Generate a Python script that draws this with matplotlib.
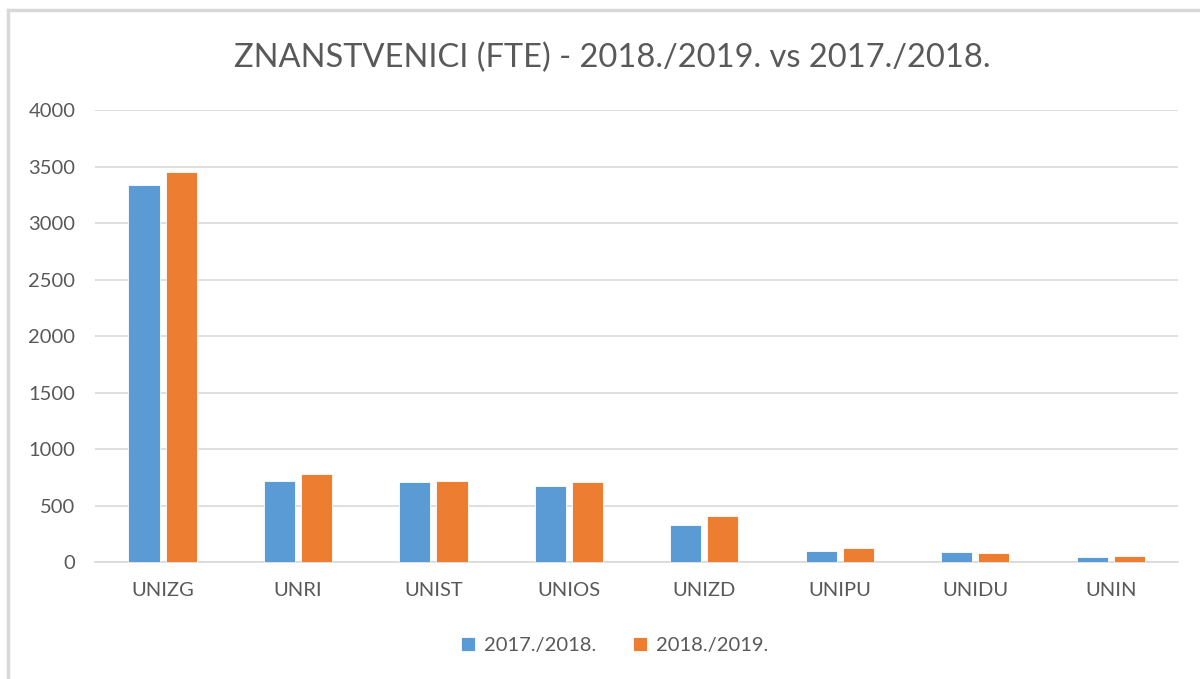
import matplotlib.pyplot as plt
import matplotlib.lines as mlines
import numpy as np

categories = ['UNIZG', 'UNRI', 'UNIST', 'UNIOS', 'UNIZD', 'UNIPU', 'UNIDU', 'UNIN']
series_names = ['2017./2018.', '2018./2019.']
vals_1718 = [3338, 721, 709, 676, 332, 99, 87, 44]
vals_1819 = [3450, 778, 721, 709, 413, 123, 78, 57]
yticks = [0, 500, 1000, 1500, 2000, 2500, 3000, 3500, 4000]

BLUE = '#5b9bd5'
ORANGE = '#ed7d31'
TXT = '#595959'
GRID = '#d9d9d9'

plt.rcParams['font.family'] = ['Lato', 'DejaVu Sans']

fig = plt.figure(figsize=(12, 6.79), dpi=100)
ax = fig.add_axes([0.079, 0.172, 0.903, 0.666])

x = np.arange(len(categories))
w = 0.23
off = 0.137
ax.bar(x - off, vals_1718, w, color=BLUE, edgecolor='white', linewidth=0.6, label=series_names[0], zorder=3)
ax.bar(x + off, vals_1819, w, color=ORANGE, edgecolor='white', linewidth=0.6, label=series_names[1], zorder=3)

ax.set_xlim(-0.5, len(categories) - 0.5)
ax.set_ylim(0, 4000)
ax.set_yticks(yticks)
ax.set_yticklabels([str(v) for v in yticks])
ax.set_xticks(x)
ax.set_xticklabels(categories)
ax.tick_params(axis='both', length=0, labelsize=14.5, colors=TXT)
ax.tick_params(axis='y', pad=14)
ax.tick_params(axis='x', pad=14)

ax.grid(axis='y', color=GRID, linewidth=1.2, zorder=0)
for s in ['top', 'right', 'left']:
    ax.spines[s].set_visible(False)
ax.spines['bottom'].set_color(GRID)
ax.spines['bottom'].set_linewidth(1.2)

fig.text(0.51, 0.914, 'ZNANSTVENICI (FTE) - 2018./2019. vs 2017./2018.',
         ha='center', va='center', fontsize=23.5, color=TXT)

leg = fig.legend(loc='center', bbox_to_anchor=(0.512, 0.05), ncol=2, frameon=False,
                 fontsize=14.5, labelcolor=TXT, handlelength=0.7, handleheight=0.7,
                 handletextpad=0.45, columnspacing=1.8)

# outer chart frame (only left and top visible in the screenshot)
fig.add_artist(mlines.Line2D([8 / 1200, 8 / 1200], [0, 1 - 10 / 679], color=GRID, linewidth=2.5))
fig.add_artist(mlines.Line2D([8 / 1200, 1], [1 - 10 / 679, 1 - 10 / 679], color=GRID, linewidth=2.5))

fig.savefig('out.png', dpi=100)
